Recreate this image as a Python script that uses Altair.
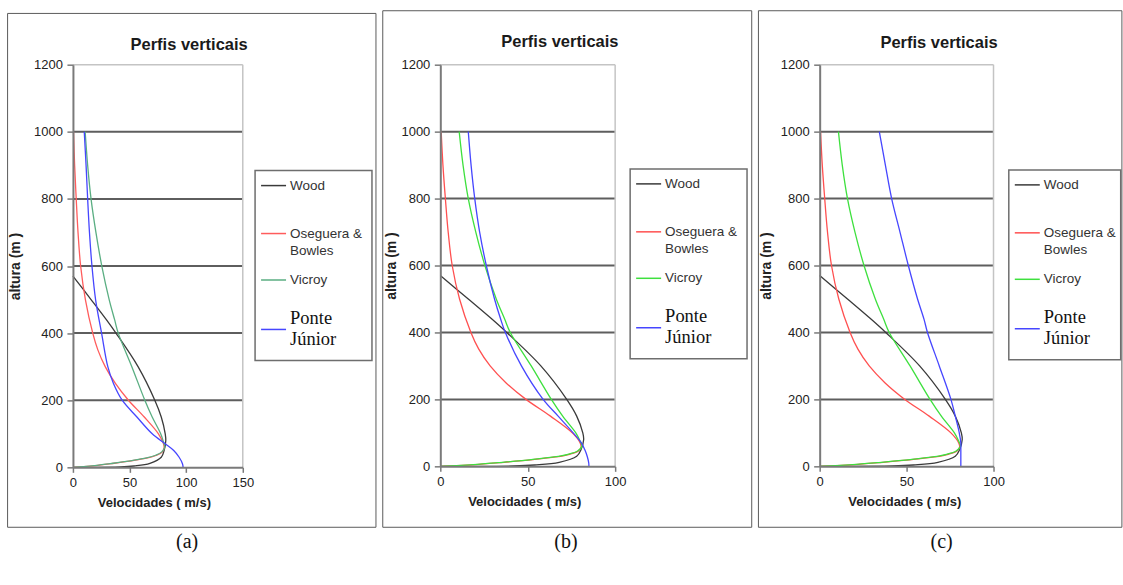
import altair as alt
import pandas as pd

# ---------------- data ----------------
series_names = ["Wood", "Oseguera & Bowles", "Vicroy", "Ponte Júnior"]

wood_z = [0, 1, 4, 12, 30, 50, 80, 100, 150, 200, 300, 400, 440, 500, 570]
wood_v = [0, 42, 54, 68, 78, 80.5, 82, 81.5, 78, 72.3, 57.5, 38, 29.5, 16, 0]

osb_z = [0, 2, 5, 11, 20, 28, 36, 46, 58, 70, 100, 150, 200, 250, 300, 350, 400, 500, 600, 700, 800, 900, 1000]
osb_v = [0, 10, 20, 34, 53, 66, 74, 79, 80.5, 80, 75.5, 63, 49, 37.5, 28.5, 22, 17.5, 11, 6.8, 4.5, 2.9, 1.5, 0.5]

vic_z = [0, 2, 5, 11, 20, 28, 36, 46, 60, 75, 100, 150, 200, 300, 400, 440, 500, 600, 700, 800, 900, 1000]
vic_v = [0, 9, 19, 33, 52, 65, 73, 78.5, 81, 80, 77.5, 70, 63.5, 52, 40, 36.8, 32, 25.5, 20.3, 16, 13, 10.8]

pj_a_z = [0, 10, 30, 50, 70, 100, 150, 200, 250, 300, 400, 500, 600, 700, 800, 900, 1000]
pj_a_v = [97.3, 96.8, 93.8, 89, 81.5, 70, 56.5, 43.5, 35.8, 30.8, 25.3, 20, 16.8, 14.6, 13, 11.6, 10]

pj_b_z = [0, 10, 30, 50, 70, 100, 150, 200, 300, 400, 440, 500, 600, 700, 800, 900, 1000]
pj_b_v = [85, 84.9, 84, 82.6, 80.7, 76, 67.4, 58.8, 46.4, 37.2, 34.5, 31, 26.3, 22.5, 19.7, 17.6, 16]

pj_c_z = [0, 50, 70, 100, 150, 200, 300, 400, 440, 500, 600, 700, 800, 900, 1000]
pj_c_v = [81.2, 81.2, 81.2, 80.3, 78, 75.5, 68.8, 62, 60, 56.3, 51, 46.2, 41.4, 37.8, 34.3]

y_ticks = [0, 200, 400, 600, 800, 1000, 1200]
grid_vals = [200, 400, 600, 800, 1000]
x_ticks_a = [0, 50, 100, 150]
x_ticks_bc = [0, 50, 100]
x_max_a = 150
x_max_bc = 100
y_max = 1200
panel_letters = ["(a)", "(b)", "(c)"]
title_text = "Perfis verticais"
legend_lines = [["Wood"], ["Oseguera &", "Bowles"], ["Vicroy"], ["Ponte", "Júnior"]]

colors_a = ["#3a3a3a", "#ff5c5c", "#5aae82", "#4646ff"]
colors_bc = ["#3a3a3a", "#ff5050", "#3ee03e", "#4646ff"]

SANS = "Liberation Sans"
SERIF = "Liberation Serif"


def one(v):
    return pd.DataFrame({"k": [v]})


def panel(pj_z, pj_v, colors, xmax, xticks, g, letter):
    rows = []
    for name, zs, vs in [("Wood", wood_z, wood_v),
                         ("Oseguera & Bowles", osb_z, osb_v),
                         ("Vicroy", vic_z, vic_v),
                         ("Ponte Júnior", pj_z, pj_v)]:
        for i, (z, v) in enumerate(zip(zs, vs)):
            rows.append({"serie": name, "altura": z, "vel": v, "ordem": i})
    df = pd.DataFrame(rows)

    w, h = g["w"], g["h"]
    xs = alt.Scale(domain=[0, xmax], nice=False, zero=True)
    ys = alt.Scale(domain=[0, y_max], nice=False, zero=True)
    cs = alt.Scale(domain=series_names, range=colors)

    x_axis = alt.Axis(values=xticks, format="d", title="Velocidades ( m/s)", grid=False,
                      labelFlush=False, domainColor="#7a7a7a", domainWidth=2,
                      tickColor="#7a7a7a", tickWidth=1.5, tickSize=5,
                      labelFont=SANS, labelFontSize=13, labelColor="#222222",
                      labelPadding=4, titleFont=SANS, titleFontSize=13,
                      titleFontWeight="bold", titleColor="#222222",
                      titleX=g["xtx"], titleY=39, titleAlign="center",
                      titleBaseline="alphabetic", zindex=1)
    y_axis = alt.Axis(values=y_ticks, format="d", title="altura (m )", grid=False,
                      domainColor="#7a7a7a", domainWidth=2,
                      tickColor="#7a7a7a", tickWidth=1.5, tickSize=6,
                      labelFont=SANS, labelFontSize=13, labelColor="#222222",
                      labelPadding=4.5, titleFont=SANS, titleFontSize=14,
                      titleFontWeight="bold", titleColor="#222222",
                      titleX=g["ytx"], titleY=h / 2, titleAngle=270,
                      titleAlign="center", titleBaseline="middle", zindex=1)

    X = lambda f: alt.X(f, scale=xs, axis=x_axis)
    Y = lambda f: alt.Y(f, scale=ys, axis=y_axis)

    bx1, bx2, by1, by2 = g["border"]
    layers = []
    # panel frame
    layers.append(alt.Chart(one(0)).mark_rect(fillOpacity=0, stroke="#5a5a5a", strokeWidth=1).encode(
        x=alt.value(bx1), x2=alt.value(bx2), y=alt.value(by1), y2=alt.value(by2)))
    # horizontal grid lines
    layers.append(alt.Chart(pd.DataFrame({"g": grid_vals})).mark_rule(color="#5e5e5e", strokeWidth=2).encode(
        y=Y("g:Q")))
    # light plot border (top and right)
    layers.append(alt.Chart(pd.DataFrame({"g": [y_max]})).mark_rule(color="#c4c4c4", strokeWidth=1.5).encode(
        y=Y("g:Q")))
    layers.append(alt.Chart(pd.DataFrame({"g": [xmax]})).mark_rule(color="#c4c4c4", strokeWidth=1.5).encode(
        x=X("g:Q")))
    # profiles
    layers.append(alt.Chart(df).mark_line(interpolate="catmull-rom", strokeWidth=1.3).encode(
        x=X("vel:Q"),
        y=Y("altura:Q"),
        color=alt.Color("serie:N", scale=cs, legend=None),
        order=alt.Order("ordem:Q")))

    # title
    layers.append(alt.Chart(one(0)).mark_text(text=title_text, font=SANS, fontSize=16.5, fontWeight="bold",
                                              color="#1a1a1a", align="center", baseline="alphabetic").encode(
        x=alt.value(g["title"][0]), y=alt.value(g["title"][1])))
    # caption
    layers.append(alt.Chart(one(0)).mark_text(text=letter, font=SERIF, fontSize=20, color="#111111",
                                              align="center", baseline="alphabetic").encode(
        x=alt.value(g["cap"][0]), y=alt.value(g["cap"][1])))

    # legend
    lx, ly, lw, lh = g["legend"]
    layers.append(alt.Chart(one(0)).mark_rect(fill="white", stroke="#6e6e6e", strokeWidth=1.5).encode(
        x=alt.value(lx), x2=alt.value(lx + lw), y=alt.value(ly), y2=alt.value(ly + lh)))
    sw_y = [15, 63, 109.5, 159]
    txt_y = [[15], [63, 80], [109.5], [147.5, 168.5]]
    for i, name in enumerate(series_names):
        layers.append(alt.Chart(pd.DataFrame({"serie": [name]})).mark_rule(strokeWidth=1.5).encode(
            x=alt.value(lx + 6), x2=alt.value(lx + 31), y=alt.value(ly + sw_y[i]),
            color=alt.Color("serie:N", scale=cs, legend=None)))
        for line, ty in zip(legend_lines[i], txt_y[i]):
            serif = name == "Ponte Júnior"
            layers.append(alt.Chart(one(0)).mark_text(
                text=line, font=SERIF if serif else SANS, fontSize=18.5 if serif else 13.5,
                color="#111111" if serif else "#333333", align="left", baseline="middle").encode(
                x=alt.value(lx + 35), y=alt.value(ly + ty)))

    return alt.layer(*layers).properties(width=w, height=h)


# geometry of each panel, in pixels relative to its plot area origin
geo_a = dict(w=170, h=403, border=(-65.4, 303.3, -51.3, 463),
             legend=(182.3, 106, 117, 190), title=(116.3, -14.5), ytx=-57.2, xtx=81,
             cap=(114.3, 484))
geo_b = dict(w=175, h=402, border=(-57.6, 311.7, -54, 463),
             legend=(190, 104.3, 117, 190), title=(119.7, -18), ytx=-49.3, xtx=84,
             cap=(125.7, 484))
geo_c = dict(w=174, h=402, border=(-61.3, 302.5, -54, 463),
             legend=(189.3, 105.3, 112, 190), title=(119.5, -16.5), ytx=-53, xtx=84.7,
             cap=(122, 484))

pa = panel(pj_a_z, pj_a_v, colors_a, x_max_a, x_ticks_a, geo_a, panel_letters[0])
pb = panel(pj_b_z, pj_b_v, colors_bc, x_max_bc, x_ticks_bc, geo_b, panel_letters[1])
pc = panel(pj_c_z, pj_c_v, colors_bc, x_max_bc, x_ticks_bc, geo_c, panel_letters[2])

chart = alt.hconcat(pa, pb, pc, spacing=4.7).properties(
    padding={"left": 7, "top": 9.5, "right": 0, "bottom": 5},
    background="white",
).configure_view(strokeWidth=0).resolve_scale(color="independent", x="independent", y="independent")

chart.save("out.html", embed_options={"renderer": "svg", "actions": False})
